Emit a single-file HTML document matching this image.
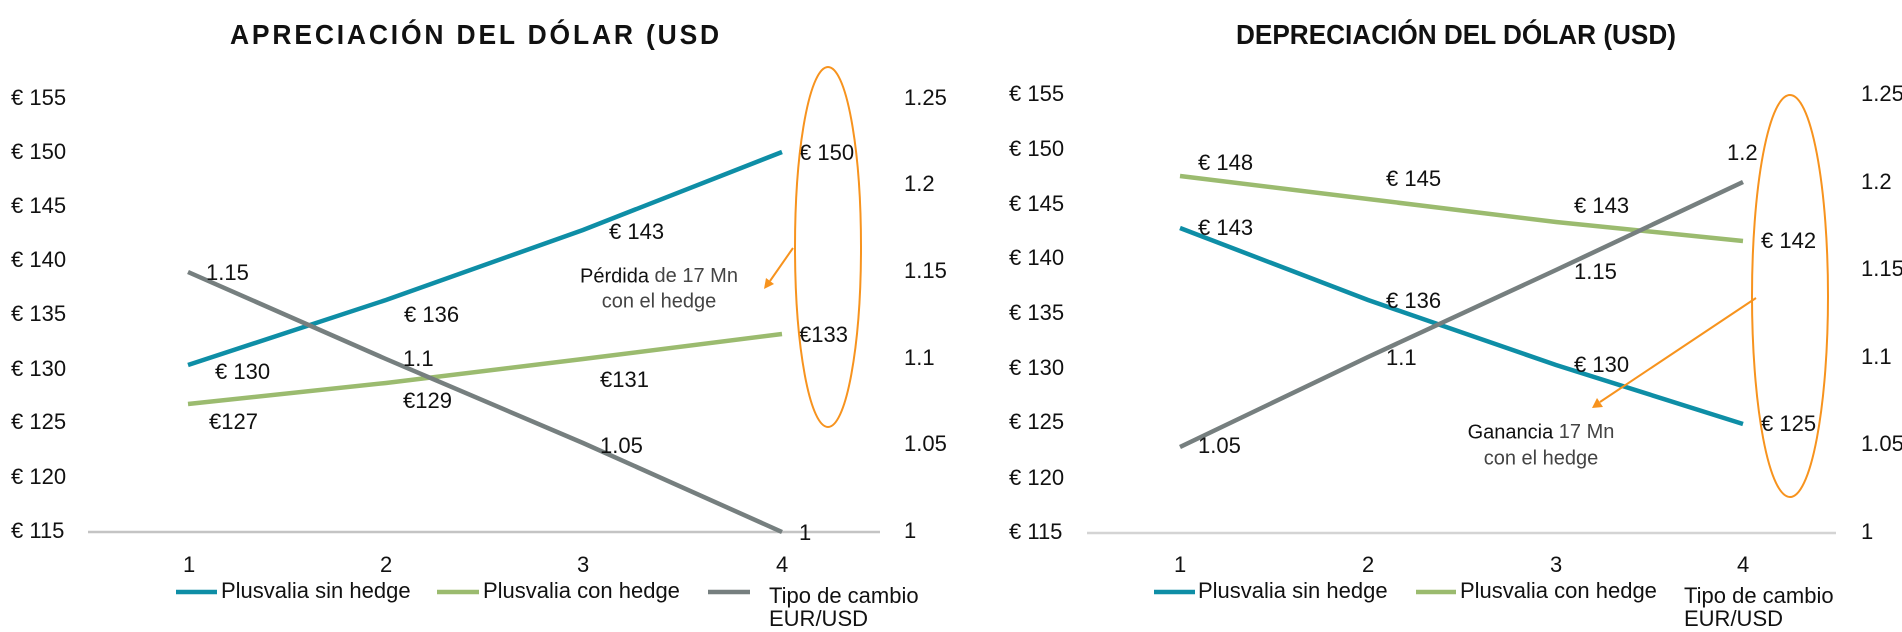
<!DOCTYPE html>
<html><head><meta charset="utf-8"><style>
html,body{margin:0;padding:0;background:#fff;}
svg{display:block;font-family:"Liberation Sans",sans-serif;}
text{fill:#111;font-size:22px;dominant-baseline:middle;}
</style></head><body>
<svg width="1902" height="632" viewBox="0 0 1902 632">
<!-- LEFT CHART -->
<text x="230" y="44" textLength="492" lengthAdjust="spacingAndGlyphs" style="font-size:28px;font-weight:bold;letter-spacing:3px;dominant-baseline:auto">APRECIACIÓN DEL DÓLAR (USD</text>
<g>
<text x="11" y="99">€ 155</text><text x="11" y="153">€ 150</text><text x="11" y="207">€ 145</text><text x="11" y="261">€ 140</text><text x="11" y="315">€ 135</text><text x="11" y="370">€ 130</text><text x="11" y="423">€ 125</text><text x="11" y="478">€ 120</text><text x="11" y="532">€ 115</text>
<text x="904" y="99">1.25</text><text x="904" y="185">1.2</text><text x="904" y="272">1.15</text><text x="904" y="359">1.1</text><text x="904" y="445">1.05</text><text x="904" y="532">1</text>
</g>
<line x1="88" y1="532" x2="880" y2="532" stroke="#c4c4c4" stroke-width="2.5"/>
<text x="183" y="566">1</text><text x="380" y="566">2</text><text x="577" y="566">3</text><text x="776" y="566">4</text>
<polyline points="188,365 386,300 583,230 782,152" fill="none" stroke="#0e8ea6" stroke-width="4.5"/>
<polyline points="188,404 386,383 583,359 782,334" fill="none" stroke="#9bbb6f" stroke-width="4.5"/>
<polyline points="188,272 386,359 583,443 782,532" fill="none" stroke="#767f7f" stroke-width="4.5"/>
<text x="215" y="373">€ 130</text><text x="209" y="423">€127</text><text x="206" y="274">1.15</text>
<text x="404" y="316">€ 136</text><text x="403" y="360">1.1</text><text x="403" y="402">€129</text>
<text x="609" y="233">€ 143</text><text x="600" y="381">€131</text><text x="600" y="447">1.05</text>
<text x="799" y="154">€ 150</text><text x="799" y="336">€133</text><text x="799" y="534">1</text>
<text x="659" y="277" text-anchor="middle" style="font-size:20px">Pérdida <tspan fill="#444">de 17 Mn</tspan></text>
<text x="659" y="302" text-anchor="middle" style="font-size:20px;fill:#444">con el hedge</text>
<ellipse cx="828" cy="247" rx="33" ry="180" fill="none" stroke="#f7931e" stroke-width="2"/>
<line x1="793" y1="248" x2="770" y2="281" stroke="#f7931e" stroke-width="2"/>
<polygon points="764,289 774,284 766,278" fill="#f7931e"/>
<line x1="176" y1="592" x2="217" y2="592" stroke="#0e8ea6" stroke-width="4.5"/>
<text x="221" y="592">Plusvalia sin hedge</text>
<line x1="437" y1="592" x2="479" y2="592" stroke="#9bbb6f" stroke-width="4.5"/>
<text x="483" y="592">Plusvalia con hedge</text>
<line x1="708" y1="592" x2="750" y2="592" stroke="#767f7f" stroke-width="4.5"/>
<text x="769" y="597">Tipo de cambio</text><text x="769" y="620">EUR/USD</text>

<!-- RIGHT CHART -->
<text x="1236" y="44" textLength="440" lengthAdjust="spacingAndGlyphs" style="font-size:28px;font-weight:bold;dominant-baseline:auto">DEPRECIACIÓN DEL DÓLAR (USD)</text>
<g>
<text x="1009" y="95">€ 155</text><text x="1009" y="150">€ 150</text><text x="1009" y="205">€ 145</text><text x="1009" y="259">€ 140</text><text x="1009" y="314">€ 135</text><text x="1009" y="369">€ 130</text><text x="1009" y="423">€ 125</text><text x="1009" y="479">€ 120</text><text x="1009" y="533">€ 115</text>
<text x="1861" y="95">1.25</text><text x="1861" y="183">1.2</text><text x="1861" y="270">1.15</text><text x="1861" y="358">1.1</text><text x="1861" y="445">1.05</text><text x="1861" y="533">1</text>
</g>
<line x1="1087" y1="533" x2="1836" y2="533" stroke="#d4d4d4" stroke-width="2.5"/>
<text x="1174" y="566">1</text><text x="1362" y="566">2</text><text x="1550" y="566">3</text><text x="1737" y="566">4</text>
<polyline points="1180,228 1368,300 1556,365 1743,424" fill="none" stroke="#0e8ea6" stroke-width="4.5"/>
<polyline points="1180,176 1368,199 1556,222 1743,241" fill="none" stroke="#9bbb6f" stroke-width="4.5"/>
<polyline points="1180,447 1368,357 1556,270 1743,182" fill="none" stroke="#767f7f" stroke-width="4.5"/>
<text x="1198" y="164">€ 148</text><text x="1386" y="180">€ 145</text><text x="1574" y="207">€ 143</text><text x="1761" y="242">€ 142</text>
<text x="1198" y="229">€ 143</text><text x="1386" y="302">€ 136</text><text x="1574" y="366">€ 130</text><text x="1761" y="425">€ 125</text>
<text x="1198" y="447">1.05</text><text x="1386" y="359">1.1</text><text x="1574" y="273">1.15</text><text x="1727" y="154">1.2</text>
<text x="1541" y="433" text-anchor="middle" style="font-size:20px">Ganancia <tspan fill="#444">17 Mn</tspan></text>
<text x="1541" y="459" text-anchor="middle" style="font-size:20px;fill:#444">con el hedge</text>
<ellipse cx="1790" cy="296" rx="38" ry="201" fill="none" stroke="#f7931e" stroke-width="2"/>
<line x1="1756" y1="298" x2="1600" y2="402" stroke="#f7931e" stroke-width="2"/>
<polygon points="1592,408 1603,407 1597,398" fill="#f7931e"/>
<line x1="1154" y1="592" x2="1195" y2="592" stroke="#0e8ea6" stroke-width="4.5"/>
<text x="1198" y="592">Plusvalia sin hedge</text>
<line x1="1416" y1="592" x2="1456" y2="592" stroke="#9bbb6f" stroke-width="4.5"/>
<text x="1460" y="592">Plusvalia con hedge</text>
<text x="1684" y="597">Tipo de cambio</text><text x="1684" y="620">EUR/USD</text>
</svg>
</body></html>
